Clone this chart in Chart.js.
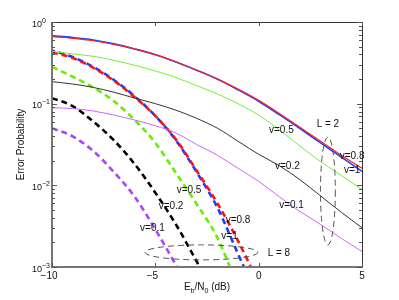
<!DOCTYPE html>
<html>
<head>
<meta charset="utf-8">
<script src="https://cdn.jsdelivr.net/npm/chart.js@4.4.1/dist/chart.umd.min.js"></script>
<style>
  body { margin: 0; background: #fff; }
  canvas { display: block; }
</style>
</head>
<body>
<canvas id="grafico" width="399" height="300"></canvas>
<script>
// ---- dados ----
const xL2 = [-10, -9, -8, -7, -6, -5, -4, -3, -2, -1, 0, 1, 2, 3, 4, 5];
const xL8 = [-10, -9, -8, -7, -6, -5, -4, -3, -2, -1, 0];

// L = 2 (linhas continuas)
const l2v08 = [0.661, 0.631, 0.589, 0.531, 0.468, 0.398, 0.324, 0.257, 0.2, 0.151, 0.110, 0.0759, 0.0513, 0.0347, 0.0234, 0.0162];
const l2v1 = [0.676, 0.646, 0.603, 0.540, 0.468, 0.398, 0.324, 0.257, 0.2, 0.148, 0.107, 0.0733, 0.0495, 0.0331, 0.0221, 0.0148];
const l2v05 = [0.437, 0.407, 0.380, 0.339, 0.295, 0.251, 0.209, 0.166, 0.132, 0.1, 0.0724, 0.0479, 0.0302, 0.0195, 0.0132, 0.00891];
const l2v02 = [0.186, 0.174, 0.158, 0.138, 0.117, 0.1, 0.0832, 0.0661, 0.0501, 0.0347, 0.024, 0.0174, 0.0117, 0.00741, 0.00468, 0.00302];
const l2v01 = [0.0891, 0.0871, 0.0813, 0.0724, 0.0631, 0.0537, 0.0437, 0.0316, 0.0234, 0.0162, 0.0112, 0.00724, 0.00479, 0.00331, 0.00224, 0.00155];

// L = 8 (tracejadas)
const l8v08 = [0.427, 0.363, 0.275, 0.191, 0.120, 0.0708, 0.0363, 0.0151, 0.00603, 0.00209, 0.00063];
const l8v1 = [0.447, 0.372, 0.282, 0.195, 0.123, 0.0708, 0.0355, 0.0145, 0.00537, 0.00145, 0.0004];
const l8v05 = [0.282, 0.214, 0.158, 0.107, 0.0631, 0.0331, 0.0141, 0.00589, 0.00229, 0.00056];
const l8v02 = [0.117, 0.0933, 0.0603, 0.0355, 0.0182, 0.00813, 0.00331, 0.00117, 0.0004];
const l8v01 = [0.0501, 0.0398, 0.0263, 0.0145, 0.00724, 0.00288, 0.00105, 0.00036];

// eixos
const xTicks = [-10, -5, 0, 5];
const xTickLabels = ["\u221210", "\u22125", "0", "5"];
const yTicks = [1, 0.1, 0.01, 0.001];
const yTickExp = ["0", "\u22121", "\u22122", "\u22123"];

// anotacoes (coordenadas de dados)
const rotulos = [
  { t: "v=0.5", x: 1.1, y: 0.0476 },
  { t: "L = 2", x: 3.35, y: 0.0564 },
  { t: "v=0.8", x: 4.52, y: 0.0225 },
  { t: "v=1", x: 4.52, y: 0.0154 },
  { t: "v=0.2", x: 1.39, y: 0.0173 },
  { t: "v=0.1", x: 1.59, y: 0.00574 },
  { t: "v=0.5", x: -3.37, y: 0.00877 },
  { t: "v=0.2", x: -4.24, y: 0.00551 },
  { t: "v=0.1", x: -5.14, y: 0.00296 },
  { t: "v=0.8", x: -1.0, y: 0.00377 },
  { t: "v=1", x: -1.41, y: 0.0024 },
  { t: "L = 8", x: 0.98, y: 0.00146 },
];
const elipses = [
  { x: 3.35, y: 0.00853, dx: 0.36, dlog: 0.661 },
  { x: -2.77, y: 0.00151, dx: 2.73, dlog: 0.092 },
];

function pontos(xs, ys) {
  return ys.map((v, i) => ({ x: xs[i], y: v }));
}

function serie(xs, ys, cor, largura, tracejado, deslocamento) {
  return {
    data: pontos(xs, ys),
    borderColor: cor,
    borderWidth: largura,
    borderDash: tracejado || [],
    borderDashOffset: deslocamento || 0,
    pointRadius: 0,
    fill: false,
    cubicInterpolationMode: "monotone",
  };
}

const fonte = '"Liberation Sans", Arial, sans-serif';

const extras = {
  id: "extras",
  afterDatasetsDraw(chart) {
    const { ctx, scales } = chart;
    const x = scales.x, y = scales.y;
    ctx.save();
    ctx.strokeStyle = "#555";
    ctx.lineWidth = 1;
    ctx.setLineDash([6, 4]);
    elipses.forEach((e) => {
      const cx = x.getPixelForValue(e.x);
      const cy = y.getPixelForValue(e.y);
      const rx = Math.abs(x.getPixelForValue(e.x + e.dx) - cx);
      const ry = Math.abs(y.getPixelForValue(e.y * Math.pow(10, e.dlog)) - cy);
      ctx.beginPath();
      ctx.ellipse(cx, cy, rx, ry, 0, 0, 2 * Math.PI);
      ctx.stroke();
    });
    ctx.setLineDash([]);
    ctx.fillStyle = "#111";
    ctx.font = "10px " + fonte;
    ctx.textAlign = "center";
    ctx.textBaseline = "middle";
    rotulos.forEach((r) => {
      ctx.fillText(r.t, x.getPixelForValue(r.x), y.getPixelForValue(r.y));
    });
    ctx.restore();
  },
  afterDraw(chart) {
    const { ctx, chartArea: a, scales } = chart;
    const x = scales.x, y = scales.y;
    ctx.save();
    // caixa
    ctx.strokeStyle = "#333";
    ctx.lineWidth = 1;
    ctx.beginPath();
    ctx.moveTo(a.left, a.top + 0.5);
    ctx.lineTo(a.right + 0.5, a.top + 0.5);
    ctx.lineTo(a.right + 0.5, a.bottom);
    ctx.stroke();
    ctx.strokeStyle = "#777";
    ctx.lineWidth = 2;
    ctx.beginPath();
    ctx.moveTo(a.left, a.top);
    ctx.lineTo(a.left, a.bottom);
    ctx.lineTo(a.right + 1, a.bottom);
    ctx.stroke();

    // marcas do eixo y
    ctx.lineWidth = 1;
    ctx.strokeStyle = "#555";
    ctx.beginPath();
    yTicks.forEach((v) => {
      const py = Math.round(y.getPixelForValue(v)) + 0.5;
      ctx.moveTo(a.left, py); ctx.lineTo(a.left + 5, py);
      ctx.moveTo(a.right, py); ctx.lineTo(a.right - 5, py);
    });
    [0.001, 0.01, 0.1].forEach((d) => {
      for (let m = 2; m <= 9; m++) {
        const py = Math.round(y.getPixelForValue(d * m)) + 0.5;
        ctx.moveTo(a.left, py); ctx.lineTo(a.left + 3, py);
        ctx.moveTo(a.right, py); ctx.lineTo(a.right - 3, py);
      }
    });
    xTicks.forEach((v) => {
      const px = Math.round(x.getPixelForValue(v)) + 0.5;
      ctx.moveTo(px, a.bottom); ctx.lineTo(px, a.bottom - 4);
      ctx.moveTo(px, a.top); ctx.lineTo(px, a.top + 4);
    });
    ctx.stroke();

    // rotulos dos ticks
    ctx.fillStyle = "#111";
    ctx.textBaseline = "alphabetic";
    yTicks.forEach((v, i) => {
      const py = y.getPixelForValue(v);
      ctx.font = "9px " + fonte;
      ctx.textAlign = "left";
      ctx.fillText("10", 32, py + 4.5);
      const w = ctx.measureText("10").width;
      ctx.font = "7px " + fonte;
      ctx.fillText(yTickExp[i], 32 + w, py + 0.5);
    });
    ctx.font = "10px " + fonte;
    xTicks.forEach((v, i) => {
      const px = x.getPixelForValue(v);
      const lab = xTickLabels[i];
      const num = lab.replace("\u2212", "");
      const wn = ctx.measureText(num).width;
      ctx.textAlign = "left";
      ctx.fillText(lab, px + wn / 2 - ctx.measureText(lab).width, 279);
    });

    // titulo do eixo x
    const partes = [
      { t: "E", s: false }, { t: "b", s: true }, { t: "/N", s: false },
      { t: "0", s: true }, { t: " (dB)", s: false },
    ];
    let total = 0;
    partes.forEach((p) => {
      ctx.font = (p.s ? "7px " : "10px ") + fonte;
      p.w = ctx.measureText(p.t).width;
      total += p.w;
    });
    let cx = (a.left + a.right) / 2 - total / 2;
    partes.forEach((p) => {
      ctx.font = (p.s ? "7px " : "10px ") + fonte;
      ctx.fillText(p.t, cx, p.s ? 292.5 : 290);
      cx += p.w;
    });

    // titulo do eixo y
    ctx.translate(21, (a.top + a.bottom) / 2);
    ctx.rotate(-Math.PI / 2);
    ctx.font = "10px " + fonte;
    ctx.textAlign = "center";
    ctx.textBaseline = "middle";
    ctx.fillText("Error Probability", 0, 0);
    ctx.restore();
  },
};

const ctx = document.getElementById("grafico").getContext("2d");

new Chart(ctx, {
  type: "line",
  data: {
    datasets: [
      serie(xL2, l2v08, "#ff2020", 1.2),
      serie(xL2, l2v1, "#2040ff", 1.6),
      serie(xL2, l2v05, "#77ee33", 1),
      serie(xL2, l2v02, "#333333", 1),
      serie(xL2, l2v01, "#cc66ff", 1),
      serie(xL8, l8v08, "#ff1010", 2.6, [6, 4]),
      serie(xL8, l8v1, "#1a3cff", 2.6, [6, 4], 3),
      serie(xL8, l8v05, "#66ee00", 2.6, [6, 4]),
      serie(xL8, l8v02, "#000000", 2.6, [6, 4]),
      serie(xL8, l8v01, "#aa44ff", 2.6, [6, 4]),
    ],
  },
  options: {
    responsive: false,
    animation: false,
    devicePixelRatio: 1,
    layout: { padding: { left: 52, right: 37, top: 22, bottom: 33 } },
    plugins: { legend: { display: false }, tooltip: { enabled: false } },
    scales: {
      x: { type: "linear", min: -10, max: 5, display: false },
      y: { type: "logarithmic", min: 0.001, max: 1, display: false },
    },
  },
  plugins: [extras],
});
</script>
</body>
</html>
